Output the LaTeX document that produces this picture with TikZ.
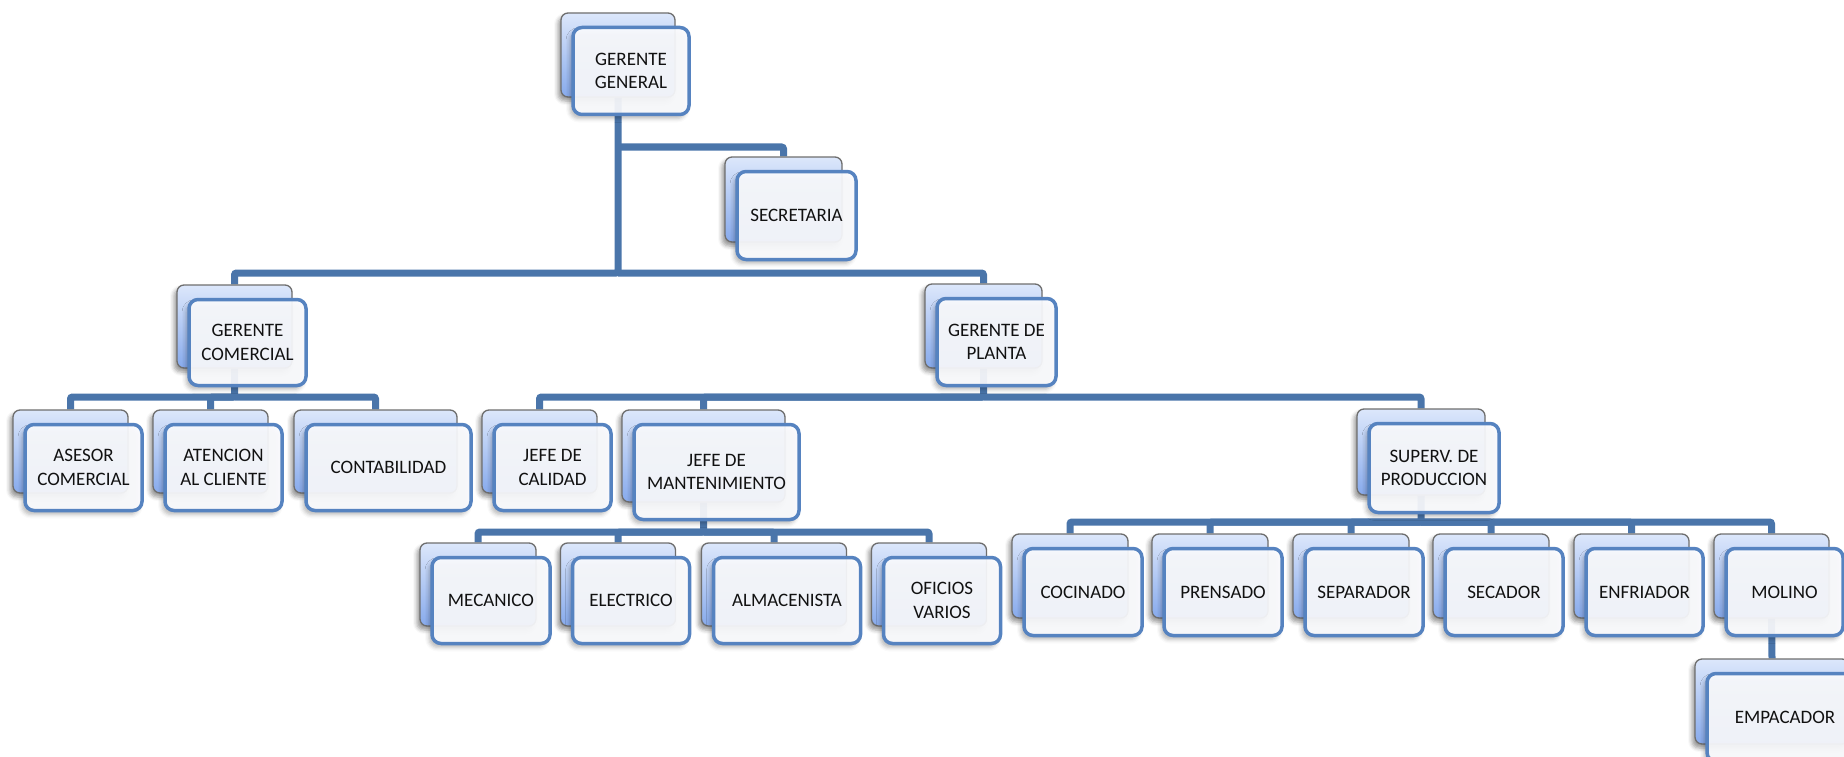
\documentclass[tikz,border=0pt]{standalone}
\usepackage{fontspec}
\setmainfont{Carlito}
\usetikzlibrary{shadows.blur}
\definecolor{linec}{HTML}{4A75AA}
\definecolor{frontc}{HTML}{5683C0}
\definecolor{backtop}{HTML}{DCE7FB}
\definecolor{backbot}{HTML}{87AAEC}
\definecolor{backdraw}{HTML}{6E6E6E}
\definecolor{frontfill}{HTML}{FBFCFF}
\definecolor{txt}{HTML}{111111}
\pgfdeclarelayer{bg}
\pgfsetlayers{bg,main}
\newcommand{\OrgUnit}[6]{%
  \node[backbox, minimum width=#4pt, minimum height=#5pt] (#1) at (#2,#3) {};
  \node[frontbox, minimum width=#4pt+2pt, minimum height=#5pt+3pt, xshift=13pt, yshift=-16pt] (#1f) at (#1) {#6};
}
\begin{document}
\begin{tikzpicture}[x=1pt, y=-1pt,
  backbox/.style={draw=backdraw, line width=1.3pt, rounded corners=7pt,
    top color=backtop, bottom color=backbot, inner sep=0pt,
    blur shadow={shadow xshift=-3pt, shadow yshift=-4pt, shadow blur radius=4pt, shadow opacity=40}},
  frontbox/.style={draw=frontc, line width=3.5pt, rounded corners=9pt,
    fill=frontfill, fill opacity=0.92, text opacity=1, draw opacity=1, inner sep=0pt,
    text=txt, align=center, font=\fontsize{19pt}{23.5pt}\selectfont,
    blur shadow={shadow xshift=-3pt, shadow yshift=-4pt, shadow blur radius=4pt, shadow opacity=30}},
  conn/.style={draw=linec, line width=7pt, rounded corners=2pt}]
\useasboundingbox (0,0) rectangle (1844,757);
\clip (0,0) rectangle (1844,757);

\coordinate (busS) at (0,147);
\coordinate (busA) at (0,273);
\coordinate (busC) at (0,397);
\coordinate (busP) at (0,397);
\coordinate (busM) at (0,532);
\coordinate (busR) at (0,522);

\OrgUnit{gg}{618}{55}{114}{84}{GERENTE\\GENERAL}
\OrgUnit{sec}{783.5}{199.5}{117}{85}{SECRETARIA}
\OrgUnit{gc}{234.5}{326.5}{115}{83}{GERENTE\\COMERCIAL}
\OrgUnit{gp}{983.5}{326}{117}{84}{GERENTE DE\\PLANTA}
\OrgUnit{ase}{70.5}{451.5}{115}{83}{ASESOR\\COMERCIAL}
\OrgUnit{ate}{210.5}{451.5}{115}{83}{ATENCION\\AL CLIENTE}
\OrgUnit{con}{375.5}{451.5}{163}{83}{CONTABILIDAD}
\OrgUnit{cal}{539.5}{451.5}{115}{83}{JEFE DE\\CALIDAD}
\OrgUnit{man}{703.5}{456}{163}{92}{JEFE DE\\MANTENIMIENTO}
\OrgUnit{sup}{1421}{452}{128}{86}{SUPERV. DE\\PRODUCCION}
\OrgUnit{mec}{478}{584.5}{116}{83}{MECANICO}
\OrgUnit{ele}{618}{584.5}{115}{83}{ELECTRICO}
\OrgUnit{alm}{774}{584.5}{145}{83}{ALMACENISTA}
\OrgUnit{ofi}{929}{584.5}{115}{83}{OFICIOS\\VARIOS}
\OrgUnit{coc}{1070}{576}{116}{84}{COCINADO}
\OrgUnit{pre}{1210}{576}{116}{84}{PRENSADO}
\OrgUnit{sep}{1351}{576}{116}{84}{SEPARADOR}
\OrgUnit{seca}{1491}{576}{116}{84}{SECADOR}
\OrgUnit{enf}{1631.5}{576}{115}{84}{ENFRIADOR}
\OrgUnit{mol}{1771.5}{576}{115}{84}{MOLINO}
\OrgUnit{emp}{1772}{701.5}{154}{85}{EMPACADOR}

\begin{pgfonlayer}{bg}
\draw[conn] (gg.south) -- (gg.south |- busA) -| (gc.north);
\draw[conn] (gg.south |- busA) -| (gp.north);
\draw[conn] (gg.south |- busS) -| (sec.north);
\draw[conn] (gc.south) -- (gc.south |- busC) -| (ase.north);
\draw[conn] (gc.south |- busC) -| (ate.north);
\draw[conn] (gc.south |- busC) -| (con.north);
\draw[conn] (gp.south) -- (gp.south |- busP) -| (cal.north);
\draw[conn] (gp.south |- busP) -| (man.north);
\draw[conn] (gp.south |- busP) -| (sup.north);
\draw[conn] (man.south) -- (man.south |- busM) -| (mec.north);
\draw[conn] (man.south |- busM) -| (ele.north);
\draw[conn] (man.south |- busM) -| (alm.north);
\draw[conn] (man.south |- busM) -| (ofi.north);
\draw[conn] (sup.south) -- (sup.south |- busR) -| (coc.north);
\draw[conn] (sup.south |- busR) -| (pre.north);
\draw[conn] (sup.south |- busR) -| (sep.north);
\draw[conn] (sup.south |- busR) -| (seca.north);
\draw[conn] (sup.south |- busR) -| (enf.north);
\draw[conn] (sup.south |- busR) -| (mol.north);
\draw[conn] (mol.south) -- (emp.north);
\end{pgfonlayer}
\end{tikzpicture}
\end{document}
